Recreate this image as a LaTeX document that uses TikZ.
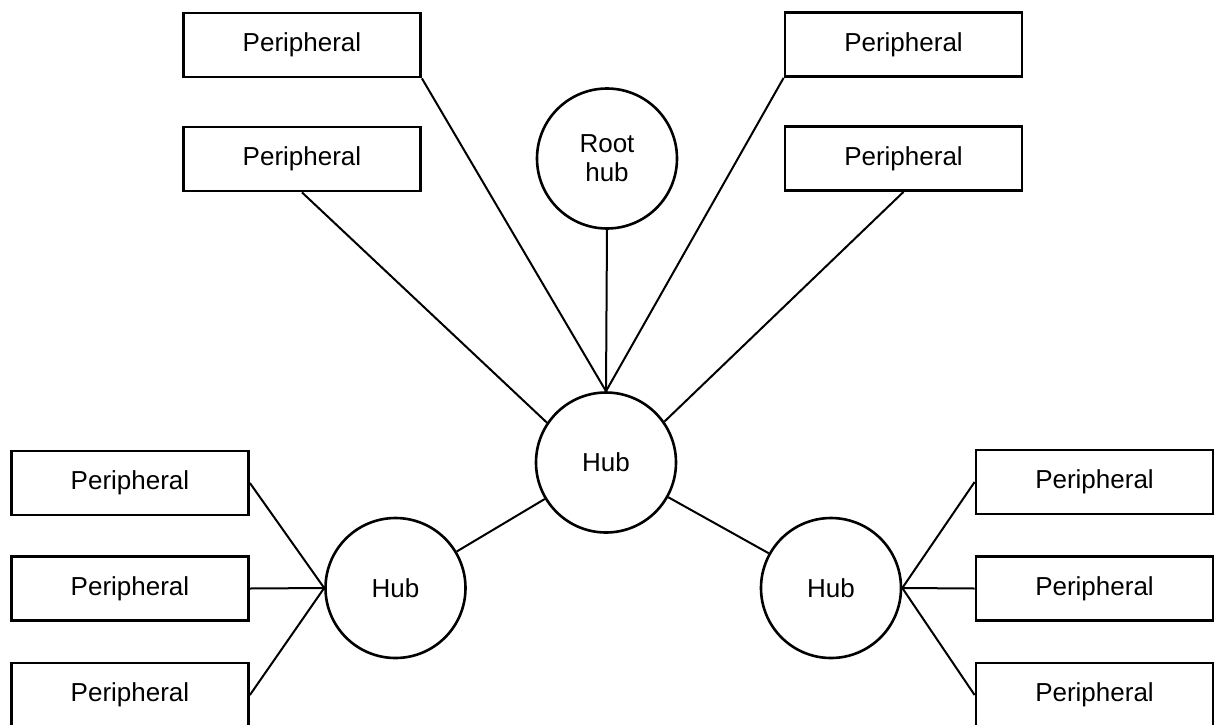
\documentclass[tikz,border=0pt]{standalone}
\usepackage{fontspec}
\setmainfont{Liberation Sans}
\begin{document}
\begin{tikzpicture}[x=0.5pt,y=-0.5pt,
  perbox/.style={draw, line width=1.4pt, minimum width=118.5pt, minimum height=32pt, inner sep=0pt, font=\fontsize{13}{14.5}\selectfont},
  hubnode/.style={draw, circle, line width=1.3pt, minimum size=70pt, inner sep=0pt, align=center, font=\fontsize{13}{14.5}\selectfont},
  conn/.style={line width=1pt}]
\useasboundingbox (0,0) rectangle (1217,724);
\node[perbox] (p1) at (302,45) {Peripheral};
\node[perbox] (p2) at (302,159) {Peripheral};
\node[perbox] (p3) at (903.5,44.5) {Peripheral};
\node[perbox] (p4) at (903.5,158.5) {Peripheral};
\node[hubnode] (root) at (607,158.5) {Root\\hub};
\node[hubnode] (hub) at (606,462.5) {Hub};
\node[hubnode] (lhub) at (395.5,588) {Hub};
\node[hubnode] (rhub) at (831,588) {Hub};
\node[perbox] (l1) at (130,483) {Peripheral};
\node[perbox] (l2) at (130,588.5) {Peripheral};
\node[perbox] (l3) at (130,695) {Peripheral};
\node[perbox] (r1) at (1094.5,482) {Peripheral};
\node[perbox] (r2) at (1094.5,588.5) {Peripheral};
\node[perbox] (r3) at (1094.5,695) {Peripheral};
\draw[conn] (p1.south east) -- (hub.north);
\draw[conn] (p3.south west) -- (hub.north);
\draw[conn] (root.south) -- (hub.north);
\draw[conn] (p2.south) -- (hub.146);
\draw[conn] (p4.south) -- (hub.35);
\draw[conn] (hub) -- (lhub);
\draw[conn] (hub) -- (rhub);
\draw[conn] (l1.east) -- (lhub.west);
\draw[conn] (l2.east) -- (lhub.west);
\draw[conn] (l3.east) -- (lhub.west);
\draw[conn] (r1.west) -- (rhub.east);
\draw[conn] (r2.west) -- (rhub.east);
\draw[conn] (r3.west) -- (rhub.east);
\end{tikzpicture}
\end{document}
